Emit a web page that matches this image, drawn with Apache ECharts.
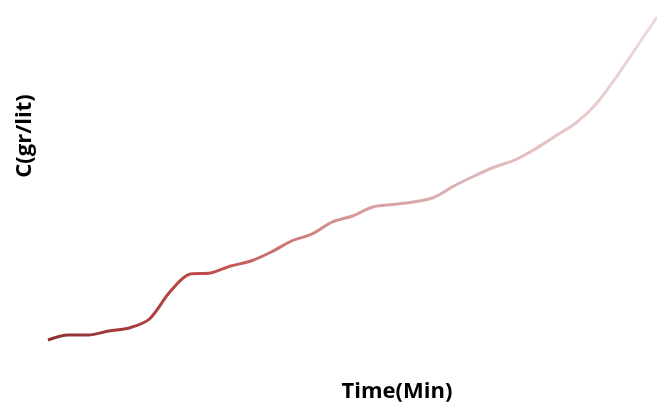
<!DOCTYPE html>
<html>
<head>
<meta charset="utf-8">
<script src="https://cdn.jsdelivr.net/npm/echarts@6/dist/echarts.min.js"></script>
<style>html,body{margin:0;padding:0;background:#fff}#c{width:657px;height:406px}</style>
</head>
<body>
<div id="c"></div>
<script>
const timeMin = [0,1,2,3,4,5,6,7,8,9,10,11,12,13,14,15,16,17,18,19,20,21,22,23,24,25,26,27,28,29,30];
const concentration = [0.00,0.05,0.05,0.09,0.12,0.21,0.48,0.66,0.67,0.74,0.79,0.88,0.99,1.06,1.18,1.24,1.33,1.355,1.38,1.425,1.54,1.64,1.73,1.80,1.91,2.04,2.17,2.36,2.63,2.93,3.23];
const xTitle = 'Time(Min)';
const yTitle = 'C(gr/lit)';

const chart = echarts.init(document.getElementById('c'), null, {renderer:'canvas'});
chart.setOption({
  animation:false,
  grid:{left:48,right:0,top:16,bottom:66},
  xAxis:{type:'value',min:0,max:30,show:false},
  yAxis:{type:'value',min:0,max:3.24,show:false},
  graphic:[
    {type:'text',x:397,y:392,style:{text:xTitle,font:'bold 22px "Open Sans"',fill:'#000',align:'center',verticalAlign:'middle'}},
    {type:'text',x:25,y:136,rotation:Math.PI/2,style:{text:yTitle,font:'bold 22px "Open Sans"',fill:'#000',align:'center',verticalAlign:'middle'}}
  ],
  series:[{
    type:'line',
    data:timeMin.map((t,i)=>[t,concentration[i]]),
    smooth:0.3,
    showSymbol:false,
    lineStyle:{width:3,color:new echarts.graphic.LinearGradient(0,0,1,0,[
      {offset:0,color:'#8a3030'},
      {offset:0.25,color:'#bf4747'},
      {offset:0.5,color:'#d69a9a'},
      {offset:0.7,color:'#dfb4b4'},
      {offset:1,color:'#efdada'}
    ])}
  }]
});
</script>
</body>
</html>
